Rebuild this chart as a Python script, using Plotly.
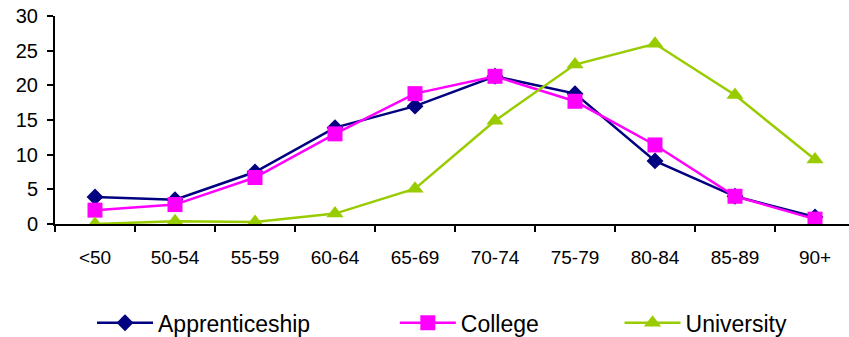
import plotly.graph_objects as go

age_groups = ["<50", "50-54", "55-59", "60-64", "65-69", "70-74", "75-79", "80-84", "85-89", "90+"]
apprenticeship = [3.9, 3.5, 7.5, 13.9, 17.0, 21.3, 18.8, 9.1, 4.0, 1.0]
college = [2.0, 2.8, 6.7, 13.0, 18.8, 21.3, 17.7, 11.4, 4.0, 0.7]
university = [0.0, 0.4, 0.3, 1.5, 5.1, 14.9, 23.0, 26.0, 18.6, 9.3]

font_family = "Liberation Sans, Arial, sans-serif"

fig = go.Figure()
fig.add_trace(go.Scatter(
    x=age_groups, y=apprenticeship, name="Apprenticeship", mode="lines+markers",
    line=dict(color="#000080", width=2.5),
    marker=dict(symbol="diamond", size=13, color="#000080"),
    legend="legend",
))
fig.add_trace(go.Scatter(
    x=age_groups, y=college, name="College", mode="lines+markers",
    line=dict(color="#FF00FF", width=2.5),
    marker=dict(symbol="square", size=15, color="#FF00FF"),
    legend="legend2",
))
fig.add_trace(go.Scatter(
    x=age_groups, y=university, name="University", mode="lines+markers",
    line=dict(color="#99CC00", width=2.5),
    marker=dict(symbol="triangle-up", size=15, color="#99CC00"),
    legend="legend3",
))

legend_style = dict(
    orientation="h", xanchor="left", y=-0.475, yanchor="middle",
    font=dict(size=23), itemwidth=56, bgcolor="rgba(0,0,0,0)",
)

fig.update_layout(
    width=849, height=337,
    margin=dict(l=55, r=0, t=16, b=113, autoexpand=False),
    paper_bgcolor="white", plot_bgcolor="white",
    font=dict(family=font_family, size=20, color="black"),
    showlegend=True,
    legend=dict(x=0.0466, **legend_style),
    legend2=dict(x=0.428, **legend_style),
    legend3=dict(x=0.711, **legend_style),
)
fig.update_xaxes(
    type="category", range=[-0.5, 9.425], automargin=False,
    showline=True, linecolor="black", linewidth=2,
    ticks="outside", tickson="boundaries", ticklen=6, tickwidth=1.5, tickcolor="black",
    ticklabelstandoff=15, showgrid=False, zeroline=False,
    tickfont=dict(size=19),
)
fig.update_yaxes(
    range=[0, 30], dtick=5, automargin=False,
    showline=True, linecolor="black", linewidth=2,
    ticks="outside", ticklen=6, tickwidth=1.5, tickcolor="black",
    ticklabelstandoff=5, showgrid=False, zeroline=False,
    tickfont=dict(size=20),
)

fig.write_html("out.html")
